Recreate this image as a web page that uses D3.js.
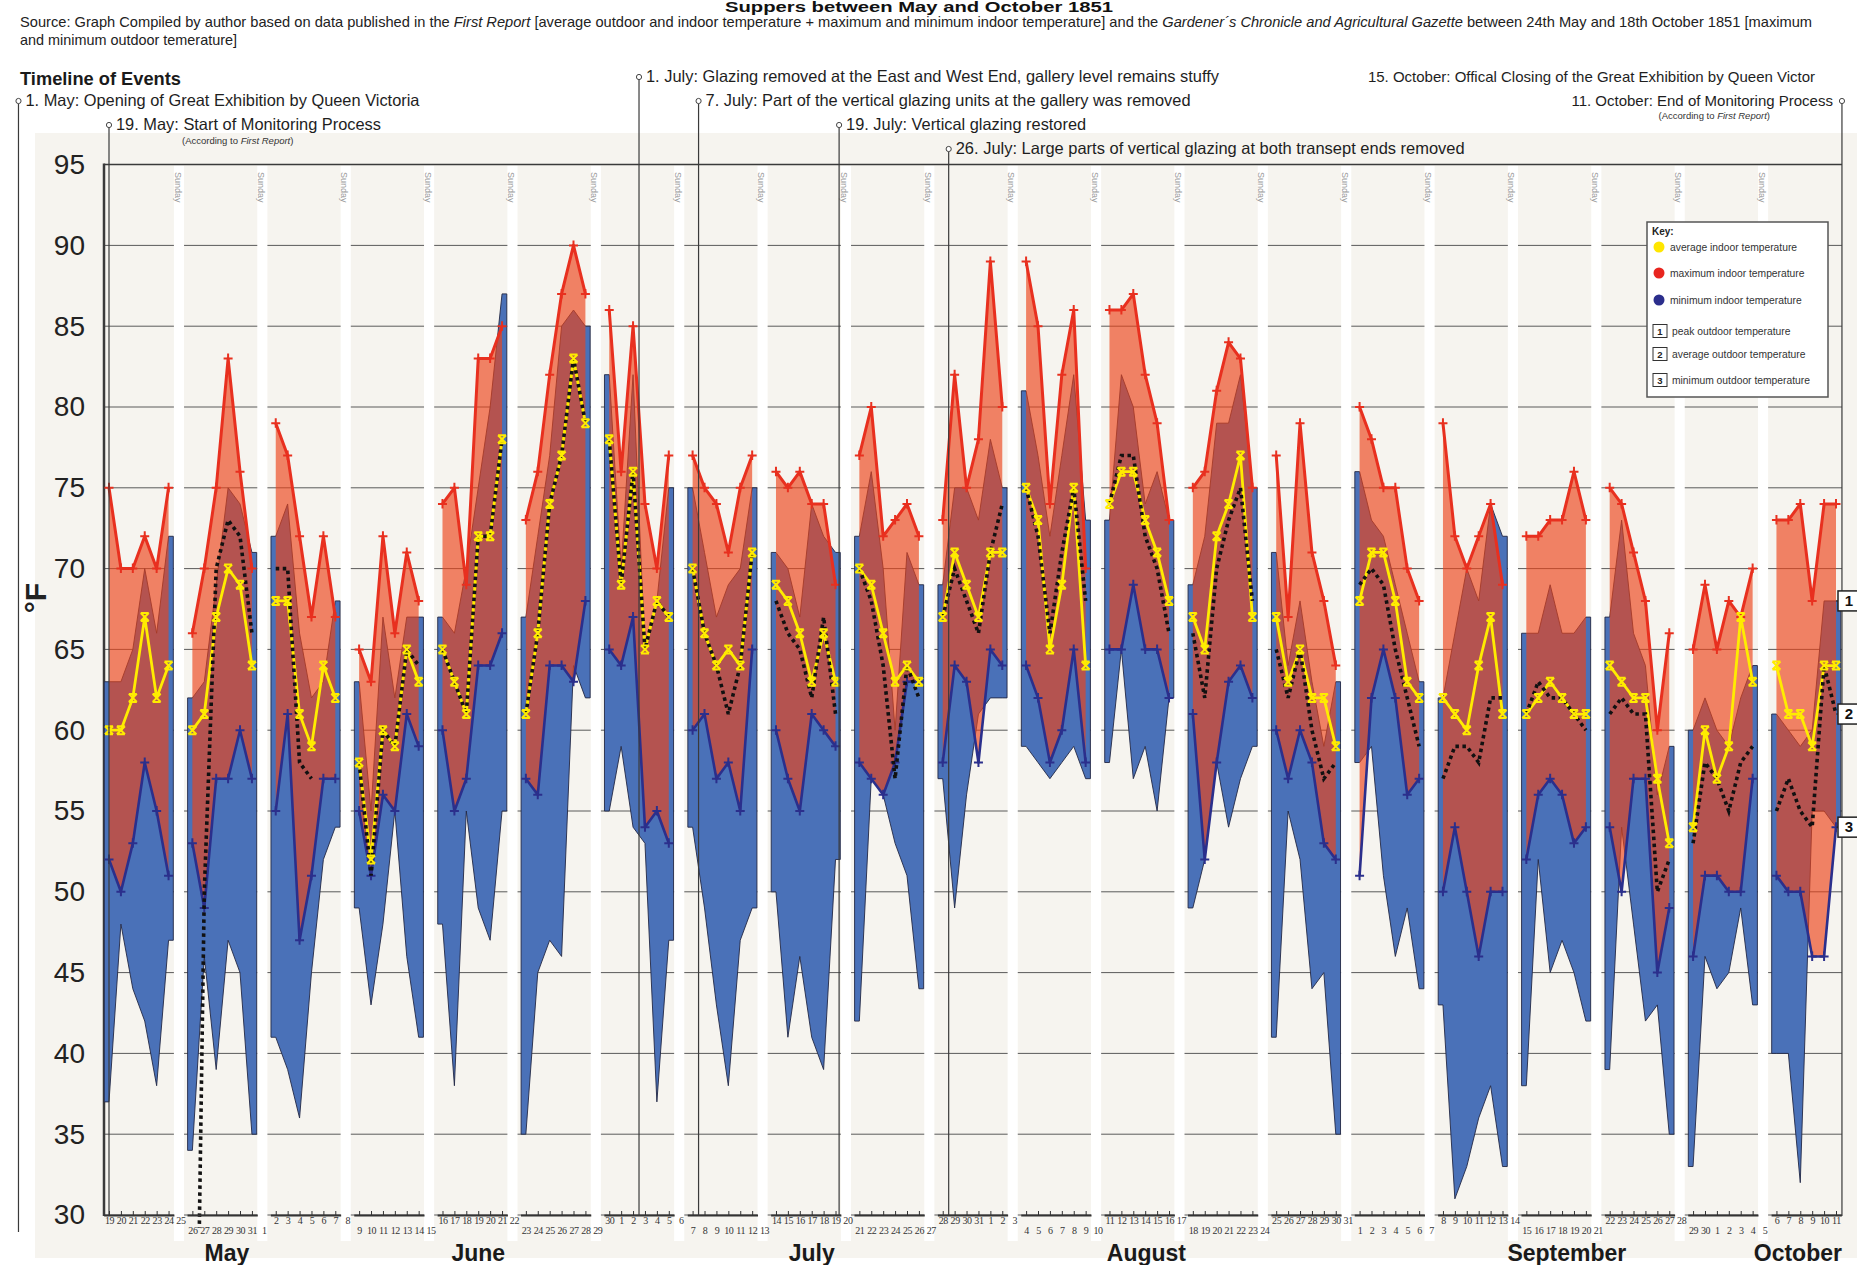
<!DOCTYPE html>
<html>
<head>
<meta charset="utf-8">
<script src="https://cdn.jsdelivr.net/npm/d3@7"></script>
<style>
  html, body { margin: 0; padding: 0; background: #fff; }
  svg { display: block; }
</style>
</head>
<body>
<svg id="chart" width="1857" height="1265"></svg>
<script>
// ---------------------------------------------------------------
// Daily temperatures, Monday–Saturday, one row per week (°F)
// Week 1 starts Monday 19 May 1851, week 21 ends Saturday 11 October
// ---------------------------------------------------------------
const firstDay = new Date(1851, 4, 19);

const maxIndoor = [
  [75,70,70,72,70,75], [66,70,75,83,76,70], [79,77,72,67,72,67], [65,63,72,66,71,68],
  [74,75,69,83,83,85], [73,76,82,87,90,87], [86,76,85,74,70,77], [77,75,74,71,75,77],
  [76,75,76,74,74,69], [77,80,72,73,74,72], [73,82,75,78,89,80], [89,85,74,82,86,70],
  [86,86,87,82,79,73], [75,76,81,84,83,75], [77,67,79,71,68,64], [80,78,75,75,70,68],
  [79,72,70,72,74,69], [72,72,73,73,76,73], [75,74,71,68,60,66], [65,69,65,68,67,70],
  [73,73,74,68,74,74]
];

const avgIndoor = [
  [60,60,62,67,62,64], [60,61,67,70,69,64], [68,68,61,59,64,62], [58,52,60,59,65,63],
  [65,63,61,72,72,78], [61,66,74,77,83,79], [78,69,76,65,68,67], [70,66,64,65,64,71],
  [69,68,66,63,66,63], [70,69,66,63,64,63], [67,71,69,67,71,71], [75,73,65,69,75,64],
  [74,76,76,73,71,68], [67,65,72,74,77,67], [67,63,65,62,62,59], [68,71,71,68,63,62],
  [62,61,60,64,67,61], [61,62,63,62,61,61], [64,63,62,62,57,53], [54,60,57,59,67,63],
  [64,61,61,59,64,64]
];

const minIndoor = [
  [52,50,53,58,55,51], [53,49,57,57,60,57], [55,61,47,51,57,57], [55,51,56,55,61,59],
  [60,55,57,64,64,66], [57,56,64,64,63,68], [65,64,67,54,55,53], [60,61,57,58,55,65],
  [60,57,55,61,60,59], [58,57,56,58,63,63], [58,64,63,58,65,64], [64,62,58,60,65,58],
  [65,65,69,65,65,62], [61,52,58,63,64,62], [60,57,60,58,53,52], [51,62,65,62,56,57],
  [50,54,50,46,50,50], [52,56,57,56,53,54], [54,50,57,57,45,49], [46,51,51,50,50,57],
  [51,50,50,46,46,54]
];

const peakOutdoor = [
  [63,63,65,70,66,72], [62,63,69,75,74,71], [72,74,66,62,63,68], [63,55,67,62,67,67],
  [67,66,70,75,80,87], [67,72,77,85,86,85], [82,70,82,65,68,75], [75,71,67,69,70,75],
  [71,70,67,74,72,71], [72,76,70,60,71,69], [69,75,75,73,78,75], [81,77,72,77,82,73],
  [73,82,80,74,76,73], [69,72,79,79,82,75], [71,64,68,63,59,63], [76,73,72,69,66,63],
  [62,66,70,68,74,72], [66,66,69,66,66,67], [67,73,66,64,56,59], [60,62,60,59,62,64],
  [61,60,59,60,68,68]
];

const avgOutdoor = [
  [null,null,null,null,null,null], [0,50,70,73,72,66], [70,70,58,57,null,null], [58,51,60,59,65,64],
  [65,63,61,72,72,78], [61,66,74,77,83,79], [78,69,76,65,68,67], [70,66,64,61,64,71],
  [68,66,65,62,67,61], [70,68,64,57,64,62], [67,70,68,66,71,74], [75,72,66,71,75,68],
  [74,77,77,72,70,66], [66,62,70,73,75,68], [65,62,65,60,57,58], [69,70,69,65,62,59],
  [57,59,59,58,62,62], [61,63,62,62,61,60], [61,62,61,61,50,52], [53,58,57,55,58,59],
  [55,57,55,54,64,61]
];

const minOutdoor = [
  [37,48,44,42,38,47], [34,46,39,47,45,35], [41,39,36,45,52,54], [49,43,48,55,46,41],
  [48,38,55,49,47,55], [35,45,47,46,64,62], [55,59,54,53,37,47], [54,49,43,38,47,49],
  [50,41,46,41,39,52], [42,57,56,53,51,44], [57,49,56,61,62,62], [59,58,57,58,59,57],
  [58,65,57,59,55,62], [49,52,58,54,57,59], [41,55,52,44,45,35], [58,59,51,46,49,44],
  [43,31,33,36,38,33], [38,52,45,47,45,42], [39,54,48,42,43,35], [33,46,44,45,49,43],
  [40,40,32,55,55,54]
];

const yTickValues = [30,35,40,45,50,55,60,65,70,75,80,85,90,95];
const monthNames = ["May","June","July","August","September","October"];
const monthAnchors = [9.9, 31.0, 59.0, 87.1, 122.4, 141.8];   // in day units from 19 May

// Timeline annotations (day = position along the day axis)
const events = [
  { text: "1. May: Opening of Great Exhibition by Queen Victoria", day: -7.6, lane: 1, len: 394, stem: "long" },
  { text: "19. May: Start of Monitoring Process", day: 0, lane: 2, len: 265, note: true },
  { text: "1. July: Glazing removed at the East and West End, gallery level remains stuffy", day: 44.5, lane: 0, len: 573 },
  { text: "7. July: Part of the vertical glazing units at the gallery was removed", day: 49.5, lane: 1, len: 485 },
  { text: "19. July: Vertical glazing restored", day: 61.3, lane: 2, len: 240 },
  { text: "26. July: Large parts of vertical glazing at both transept ends removed", day: 70.5, lane: 3, len: 509 },
  { text: "15. October: Offical Closing of the Great Exhibition by Queen Victor", day: 105.7, lane: 0, size: 15, bare: true },
  { text: "11. October: End of Monitoring Process", day: 145.5, lane: 1, size: 15, right: true, note: true }
];

// ---------------------------------------------------------------
const W = 1857, H = 1265;
const FONT = "'Liberation Sans', Arial, Helvetica, sans-serif";
const SERIF = "'Liberation Serif', 'Times New Roman', serif";
const weeks = maxIndoor.length;
const lastDay = 7 * (weeks - 1) + 5;

const x = d3.scaleLinear().domain([0, lastDay]).range([109, 1836]);
const y = d3.scaleLinear().domain([30, 95]).range([1215, 164.6]);
const axisX = 104, rightEdge = 1842;

const svg = d3.select("#chart").attr("font-family", FONT);

svg.append("rect").attr("width", W).attr("height", H).attr("fill", "#fff");
svg.append("rect").attr("x", 35).attr("y", 133).attr("width", W - 35).attr("height", 1258 - 133)
  .attr("fill", "#f6f4ef");

// horizontal gridlines
svg.append("g").selectAll("line").data(yTickValues.filter(v => v !== 95)).join("line")
  .attr("x1", axisX).attr("x2", rightEdge)
  .attr("y1", d => y(d)).attr("y2", d => y(d))
  .attr("stroke", "#5a5a5a").attr("stroke-width", 1);

// Sunday gaps between the weekly panels
const sundays = d3.range(weeks - 1).map(k => 7 * k + 6);
svg.append("g").selectAll("rect").data(sundays).join("rect")
  .attr("x", d => x(d - 0.55)).attr("width", d => x(d + 0.3) - x(d - 0.55))
  .attr("y", y(95) + 1).attr("height", 1240 - y(95))
  .attr("fill", "#ffffff");
svg.append("g").selectAll("text").data(sundays).join("text")
  .attr("transform", d => `translate(${x(d - 0.5)},172) rotate(90)`)
  .attr("font-size", 9).attr("fill", "#9a9a9a")
  .text("Sunday");

// top frame line and value axis
svg.append("line").attr("x1", axisX).attr("x2", rightEdge).attr("y1", y(95)).attr("y2", y(95))
  .attr("stroke", "#3a3a3a").attr("stroke-width", 1.5);
svg.append("line").attr("x1", axisX).attr("x2", axisX).attr("y1", y(95) - 1).attr("y2", y(30) + 1)
  .attr("stroke", "#3a3a3a").attr("stroke-width", 2.5);

const yAxis = svg.append("g").attr("transform", `translate(${axisX},0)`)
  .call(d3.axisLeft(y).tickValues(yTickValues).tickSize(0).tickPadding(19));
yAxis.select(".domain").remove();
yAxis.attr("font-size", 28).attr("font-family", FONT);
yAxis.selectAll("text").attr("fill", "#222");

svg.append("text")
  .attr("transform", `translate(46,598) rotate(-90)`)
  .attr("text-anchor", "middle").attr("font-size", 30).attr("font-weight", "bold").attr("fill", "#222")
  .text("°F");

// ---------------------------------------------------------------
// weekly panels
const panels = d3.range(weeks).map(k => ({
  k,
  days: d3.range(6).map(j => ({
    i: 7 * k + j,
    maxIn: maxIndoor[k][j], avgIn: avgIndoor[k][j], minIn: minIndoor[k][j],
    peakOut: peakOutdoor[k][j], avgOut: avgOutdoor[k][j], minOut: minOutdoor[k][j]
  }))
}));

svg.append("defs").append("clipPath").attr("id", "plotClip")
  .append("rect").attr("x", axisX).attr("y", y(95)).attr("width", rightEdge - axisX).attr("height", y(29.2) - y(95));

const outArea = d3.area().x(d => x(d.i)).y0(d => y(d.minOut)).y1(d => y(d.peakOut));
const inArea = d3.area().x(d => x(d.i)).y0(d => y(d.minIn)).y1(d => y(d.maxIn));
const lineOf = key => d3.line().defined(d => d[key] != null).x(d => x(d.i)).y(d => y(d[key]));

const plusPath = "M-4.5,0H4.5M0,-5V4.5";
const hourglassPath = "M-4,-4H4M-4,4H4M-4,-4L4,4M4,-4L-4,4";

const gPanels = svg.append("g");
panels.forEach(p => {
  const g = gPanels.append("g");
  const ext = [{ ...p.days[0], i: p.days[0].i - 0.4 }, ...p.days, { ...p.days[5], i: p.days[5].i + 0.4 }];

  // outdoor range (peak to minimum)
  g.append("path").attr("d", outArea(ext))
    .attr("fill", "#4a71b8").attr("stroke", "#232845").attr("stroke-width", 0.9).attr("stroke-linejoin", "round");
  // indoor range (maximum to minimum), translucent so the overlap darkens
  g.append("path").attr("d", inArea(p.days))
    .attr("fill", "#ec4419").attr("fill-opacity", 0.65);

  // minimum indoor
  g.append("path").attr("d", lineOf("minIn")(p.days))
    .attr("fill", "none").attr("stroke", "#2b2f8c").attr("stroke-width", 2.6).attr("stroke-linejoin", "round");
  g.selectAll(".mn").data(p.days).join("path").attr("class", "mn")
    .attr("transform", d => `translate(${x(d.i)},${y(d.minIn)})`)
    .attr("d", plusPath).attr("stroke", "#2b2f8c").attr("stroke-width", 2);

  // maximum indoor
  g.append("path").attr("d", lineOf("maxIn")(p.days))
    .attr("fill", "none").attr("stroke", "#e8301f").attr("stroke-width", 3).attr("stroke-linejoin", "round");
  g.selectAll(".mx").data(p.days).join("path").attr("class", "mx")
    .attr("transform", d => `translate(${x(d.i)},${y(d.maxIn)})`)
    .attr("d", plusPath).attr("stroke", "#e8301f").attr("stroke-width", 2);

  // average indoor
  g.append("path").attr("d", lineOf("avgIn")(p.days))
    .attr("fill", "none").attr("stroke", "#ffec00").attr("stroke-width", 2.8).attr("stroke-linejoin", "round");

  // average outdoor (dotted)
  g.append("path").attr("d", lineOf("avgOut")(p.days)).attr("clip-path", "url(#plotClip)")
    .attr("fill", "none").attr("stroke", "#111").attr("stroke-width", 3.6).attr("stroke-dasharray", "3.5 3.5");

  g.selectAll(".av").data(p.days).join("path").attr("class", "av")
    .attr("transform", d => `translate(${x(d.i)},${y(d.avgIn)})`)
    .attr("d", hourglassPath).attr("stroke", "#ffec00").attr("stroke-width", 2).attr("fill", "none");
});

// per-week day axes
panels.forEach(p => {
  const a = 7 * p.k - 0.45, b = 7 * p.k + 5.45;
  const xs = d3.scaleLinear().domain([a, b]).range([x(a), x(b)]);
  const ticks = d3.range(p.k === weeks - 1 ? 6 : 7).map(j => 7 * p.k + j);
  const ax = svg.append("g").attr("transform", `translate(0,${y(30)})`)
    .call(d3.axisBottom(xs).tickValues(ticks).tickSizeInner(-4).tickSizeOuter(0)
      .tickPadding(p.k % 2 === 0 ? 2 : 12)
      .tickFormat(i => d3.timeDay.offset(firstDay, i).getDate()));
  ax.attr("font-size", 10).attr("font-family", SERIF);
  ax.select(".domain").attr("stroke", "#333").attr("stroke-width", 2);
  ax.selectAll(".tick line").attr("stroke", "#333");
  ax.selectAll(".tick").filter(i => i % 7 === 6).select("line").remove();
  ax.selectAll("text").attr("fill", "#333").attr("letter-spacing", "-0.4");
});

// month names
svg.append("g").selectAll("text").data(monthNames).join("text")
  .attr("x", (d, i) => x(monthAnchors[i])).attr("y", 1261)
  .attr("text-anchor", "middle").attr("font-size", 23).attr("font-weight", "bold").attr("fill", "#1a1a1a")
  .text(d => d);

// ---------------------------------------------------------------
// timeline of events
const laneY = [82, 106, 130, 154];
const gEv = svg.append("g");
gEv.append("text").attr("x", 20).attr("y", 85).attr("font-size", 17.5).attr("font-weight", "bold")
  .attr("fill", "#1a1a1a").attr("textLength", 161).attr("lengthAdjust", "spacingAndGlyphs")
  .text("Timeline of Events");

events.forEach(ev => {
  const ex = x(ev.day), by = laneY[ev.lane];
  if (!ev.bare) {
    gEv.append("line").attr("x1", ex).attr("x2", ex).attr("y1", by - 2.5)
      .attr("y2", ev.stem === "long" ? 1232 : y(30) + 1)
      .attr("stroke", "#3a3a3a").attr("stroke-width", 1.2);
    gEv.append("circle").attr("cx", ex).attr("cy", by - 5).attr("r", 2.6)
      .attr("fill", "#fff").attr("stroke", "#444").attr("stroke-width", 1);
  }
  const tx = ev.bare ? ex : (ev.right ? ex - 9 : ex + 7);
  const t = gEv.append("text").attr("x", tx).attr("y", by)
    .attr("text-anchor", ev.right ? "end" : "start")
    .attr("font-size", ev.size || 16.5).attr("fill", "#1e1e1e")
    .text(ev.text);
  if (ev.len) t.attr("textLength", ev.len).attr("lengthAdjust", "spacingAndGlyphs");
  if (ev.note) {
    const nt = gEv.append("text")
      .attr("x", ev.right ? tx - 63 : tx + 66).attr("y", by + (ev.right ? 13 : 14))
      .attr("text-anchor", ev.right ? "end" : "start")
      .attr("font-size", 9.5).attr("fill", "#333");
    nt.append("tspan").text("(According to ");
    nt.append("tspan").attr("font-style", "italic").text("First Report");
    nt.append("tspan").text(")");
  }
});

// ---------------------------------------------------------------
// title and source line
svg.append("text").attr("x", 919).attr("y", 12).attr("text-anchor", "middle")
  .attr("font-size", 14.5).attr("font-weight", "bold").attr("fill", "#111")
  .attr("textLength", 388).attr("lengthAdjust", "spacingAndGlyphs")
  .text("Suppers between May and October 1851");

const src = svg.append("text").attr("x", 20).attr("y", 27).attr("font-size", 14.2).attr("fill", "#222")
  .attr("textLength", 1792).attr("lengthAdjust", "spacingAndGlyphs");
src.append("tspan").text("Source: Graph Compiled by author based on data published in the ");
src.append("tspan").attr("font-style", "italic").text("First Report");
src.append("tspan").text(" [average outdoor and indoor temperature + maximum and minimum indoor temperature] and the ");
src.append("tspan").attr("font-style", "italic").text("Gardener´s Chronicle and Agricultural Gazette");
src.append("tspan").text(" between 24th May and 18th October 1851 [maximum");
svg.append("text").attr("x", 20).attr("y", 45).attr("font-size", 14.2).attr("fill", "#222")
  .attr("textLength", 217).attr("lengthAdjust", "spacingAndGlyphs")
  .text("and minimum outdoor temerature]");

// ---------------------------------------------------------------
// key
const key = svg.append("g").attr("transform", "translate(1647,222)");
key.append("rect").attr("width", 181).attr("height", 175).attr("fill", "#fff")
  .attr("stroke", "#555").attr("stroke-width", 1.5);
key.append("text").attr("x", 5).attr("y", 13).attr("font-size", 10).attr("font-weight", "bold").attr("fill", "#222").text("Key:");
const keyDots = [
  { c: "#ffe600", t: "average indoor temperature", yy: 25 },
  { c: "#e8251f", t: "maximum indoor temperature", yy: 51 },
  { c: "#2b2e8c", t: "minimum indoor temperature", yy: 78 }
];
keyDots.forEach(d => {
  key.append("circle").attr("cx", 12).attr("cy", d.yy).attr("r", 5.5).attr("fill", d.c);
  key.append("text").attr("x", 23).attr("y", d.yy + 3.5).attr("font-size", 10.3).attr("fill", "#333").text(d.t);
});
const keyBoxes = [
  { n: "1", t: "peak outdoor temperature", yy: 109 },
  { n: "2", t: "average outdoor temperature", yy: 132 },
  { n: "3", t: "minimum outdoor temperature", yy: 158 }
];
keyBoxes.forEach(d => {
  key.append("rect").attr("x", 6).attr("y", d.yy - 6.5).attr("width", 14).attr("height", 13)
    .attr("fill", "#fff").attr("stroke", "#333").attr("stroke-width", 1);
  key.append("text").attr("x", 13).attr("y", d.yy + 3.5).attr("text-anchor", "middle")
    .attr("font-size", 9.5).attr("font-weight", "bold").attr("fill", "#222").text(d.n);
  key.append("text").attr("x", 25).attr("y", d.yy + 3.5).attr("font-size", 10.3).attr("fill", "#333").text(d.t);
});

// outdoor series end labels at the last recorded day
const lastWeek = weeks - 1;
const endTags = [
  { n: "1", v: peakOutdoor[lastWeek][5] },
  { n: "2", v: avgOutdoor[lastWeek][5] },
  { n: "3", v: minOutdoor[lastWeek][5] }
];
const tags = svg.append("g").selectAll("g").data(endTags).join("g")
  .attr("transform", d => `translate(${rightEdge - 4},${y(d.v)})`);
tags.append("line").attr("x1", x(lastDay) - (rightEdge - 4)).attr("x2", 0).attr("stroke", "#333").attr("stroke-width", 1);
tags.append("rect").attr("x", 0).attr("y", -10).attr("width", 24).attr("height", 20)
  .attr("fill", "#fff").attr("stroke", "#222").attr("stroke-width", 1.5);
tags.append("text").attr("x", 11).attr("y", 5).attr("text-anchor", "middle")
  .attr("font-size", 15).attr("font-weight", "bold").attr("fill", "#111").text(d => d.n);
</script>
</body>
</html>
